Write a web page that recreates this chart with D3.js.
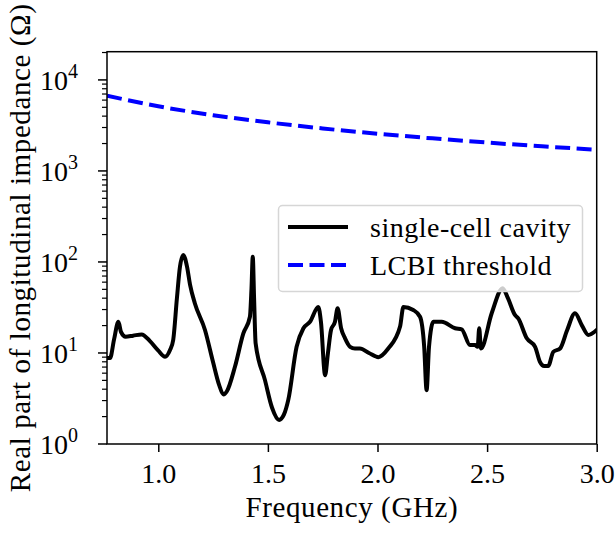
<!DOCTYPE html>
<html>
<head>
<meta charset="utf-8">
<script src="https://cdn.jsdelivr.net/npm/d3@7"></script>
<style>
  body { margin: 0; background: #fff; }
</style>
</head>
<body>
<svg></svg>
<script>
// data
var cavityFreq = [0.766, 0.780, 0.798, 0.818, 0.830, 0.851, 0.885, 0.924, 0.962, 0.999,
    1.031, 1.053, 1.068, 1.085, 1.099, 1.114, 1.131, 1.145, 1.167, 1.213,
    1.250, 1.277, 1.297, 1.313, 1.350, 1.388, 1.418, 1.425, 1.431, 1.437,
    1.444, 1.487, 1.519, 1.551, 1.573, 1.593, 1.631, 1.662, 1.692, 1.730,
    1.742, 1.761, 1.774, 1.788, 1.806, 1.818, 1.834, 1.852, 1.875, 1.897,
    1.920, 1.961, 2.004, 2.049, 2.103, 2.118, 2.163, 2.194, 2.213, 2.224,
    2.235, 2.255, 2.293, 2.354, 2.384, 2.422, 2.445, 2.457, 2.464, 2.472,
    2.521, 2.571, 2.595, 2.627, 2.642, 2.681, 2.719, 2.741, 2.760, 2.779,
    2.802, 2.833, 2.865, 2.901, 2.933, 2.962, 3.000];
var cavityZ = [8.8, 8.8, 14, 22, 17, 15.1, 15.5, 16, 13.5, 10.7,
    9.1, 10.7, 13.9, 40, 89, 119, 89, 56, 35, 17.9,
    7.9, 4.5, 3.5, 3.8, 7.1, 16.4, 25, 50, 114, 40,
    12.8, 5.0, 2.5, 1.84, 2.1, 3.05, 11.7, 18.7, 22, 32,
    22, 5.7, 10, 17.9, 22, 31, 18.7, 14.5, 11.7, 11.2,
    11.2, 10, 9.0, 11.2, 19.5, 32, 29.7, 25, 11.7, 3.9,
    11.7, 22, 22, 18.7, 18.2, 12.2, 12.2, 11.7, 18.7, 11.2,
    27.3, 51.4, 40, 26.2, 24, 14.5, 11.7, 8.0, 7.2, 7.2,
    10.3, 11.2, 17.8, 27.3, 20, 15.8, 17.9];

var thresholdFreq = [0.766, 1.0, 1.25, 1.5, 1.75, 2.0, 2.25, 2.5, 2.75, 3.0];
var thresholdZ = [6700, 5130, 4100, 3420, 2930, 2565, 2280, 2050, 1865, 1710];

var xTicks = [1.0, 1.5, 2.0, 2.5, 3.0];
var yMajorExp = [0, 1, 2, 3, 4];
var seriesNames = ['single-cell cavity', 'LCBI threshold'];

var FONT = 'Liberation Serif';

// chart area
var canvasWidth = 616;
var canvasHeight = 534;
var margin = { top: 51.7, right: 19.3, bottom: 90, left: 107 };
var width = canvasWidth - margin.left - margin.right;
var height = canvasHeight - margin.top - margin.bottom;

var svg = d3.select('svg')
    .attr('width', canvasWidth)
    .attr('height', canvasHeight)
    .attr('font-family', FONT);

svg.append('rect')
    .attr('width', canvasWidth)
    .attr('height', canvasHeight)
    .attr('fill', '#fff');

var graphArea = svg.append('g')
    .attr('transform', 'translate(' + margin.left + ',' + margin.top + ')');

var xScale = d3.scaleLinear()
    .domain([0.766, 3.0])
    .range([0, width]);
var yScale = d3.scaleLog()
    .domain([1, Math.pow(10, 4.31)])
    .range([height, 0]);

// clip so the lines stay inside the axes
graphArea.append('clipPath')
    .attr('id', 'plotClip')
    .append('rect')
    .attr('width', width)
    .attr('height', height);

var line = d3.line()
    .x(function (d) { return xScale(d[0]); })
    .y(function (d) { return yScale(d[1]); })
    .curve(d3.curveMonotoneX);

var cavityData = cavityFreq.map(function (f, i) { return [f, cavityZ[i]]; });
var thresholdData = thresholdFreq.map(function (f, i) { return [f, thresholdZ[i]]; });

var lines = graphArea.append('g').attr('clip-path', 'url(#plotClip)');

lines.append('path')
    .datum(cavityData)
    .attr('d', line)
    .attr('fill', 'none')
    .attr('stroke', '#000')
    .attr('stroke-width', 4)
    .attr('stroke-linejoin', 'round')
    .attr('stroke-linecap', 'square');

lines.append('path')
    .datum(thresholdData)
    .attr('d', line)
    .attr('fill', 'none')
    .attr('stroke', '#0000ff')
    .attr('stroke-width', 4)
    .attr('stroke-dasharray', '15,6.5');

// x axis
var xAxis = d3.axisBottom(xScale)
    .tickValues(xTicks)
    .tickFormat(d3.format('.1f'))
    .tickSize(8)
    .tickPadding(4);

var xg = graphArea.append('g')
    .attr('transform', 'translate(0,' + height + ')')
    .call(xAxis)
    .attr('font-family', FONT)
    .attr('font-size', 28);
xg.select('.domain').remove();
xg.selectAll('line').attr('stroke', '#000').attr('stroke-width', 1.5);
xg.selectAll('text')
    .attr('dy', null)
    .attr('y', 39);

// y axis: major + minor ticks
var minorTicks = [];
yMajorExp.forEach(function (e) {
    for (var k = 2; k <= 9; k++) {
        var v = k * Math.pow(10, e);
        if (v <= yScale.domain()[1]) minorTicks.push(v);
    }
});

var yg = graphArea.append('g');
yg.selectAll('.minor')
    .data(minorTicks)
    .enter().append('line')
    .attr('class', 'minor')
    .attr('x1', -5).attr('x2', 0)
    .attr('y1', function (d) { return yScale(d); })
    .attr('y2', function (d) { return yScale(d); })
    .attr('stroke', '#000')
    .attr('stroke-width', 1.2);

var majors = yg.selectAll('.major')
    .data(yMajorExp)
    .enter().append('g')
    .attr('class', 'major')
    .attr('transform', function (d) { return 'translate(0,' + yScale(Math.pow(10, d)) + ')'; });

majors.append('line')
    .attr('x1', -9).attr('x2', 0)
    .attr('stroke', '#000')
    .attr('stroke-width', 1.5);

var lbl = majors.append('text')
    .attr('x', -29)
    .attr('y', 10)
    .attr('text-anchor', 'end')
    .attr('font-family', FONT)
    .attr('font-size', 28);
lbl.append('tspan').text('10');
lbl.append('tspan')
    .attr('font-size', 20)
    .attr('dy', -12)
    .text(function (d) { return d; });

// frame
graphArea.append('rect')
    .attr('width', width)
    .attr('height', height)
    .attr('fill', 'none')
    .attr('stroke', '#000')
    .attr('stroke-width', 1.5);

// axis titles
svg.append('text')
    .attr('x', margin.left + width / 2)
    .attr('y', 517)
    .attr('text-anchor', 'middle')
    .attr('font-family', FONT)
    .attr('font-size', 29)
    .attr('letter-spacing', 0.6)
    .text('Frequency (GHz)');

svg.append('text')
    .attr('transform', 'translate(30,' + (margin.top + height / 2) + ') rotate(-90)')
    .attr('text-anchor', 'middle')
    .attr('font-family', FONT)
    .attr('font-size', 29)
    .attr('letter-spacing', 0.6)
    .text('Real part of longitudinal impedance (\u03A9)');

// legend
var legend = svg.append('g');
legend.append('rect')
    .attr('x', 278.5).attr('y', 205.5)
    .attr('width', 304).attr('height', 86)
    .attr('rx', 4).attr('ry', 4)
    .attr('fill', '#fff')
    .attr('fill-opacity', 0.8)
    .attr('stroke', '#d6d6d6')
    .attr('stroke-width', 1.5);

var legendY = [227, 265];
var legendItems = legend.selectAll('.item')
    .data(seriesNames)
    .enter().append('g')
    .attr('class', 'item')
    .attr('transform', function (d, i) { return 'translate(0,' + legendY[i] + ')'; });

legendItems.append('line')
    .attr('x1', 288).attr('x2', 348)
    .attr('stroke', function (d, i) { return i === 0 ? '#000' : '#0000ff'; })
    .attr('stroke-width', 4)
    .attr('stroke-dasharray', function (d, i) { return i === 0 ? null : '15,6.5'; });

legendItems.append('text')
    .attr('x', 370)
    .attr('y', 10)
    .attr('font-family', FONT)
    .attr('font-size', 28)
    .attr('letter-spacing', 0.5)
    .text(function (d) { return d; });
</script>
</body>
</html>
